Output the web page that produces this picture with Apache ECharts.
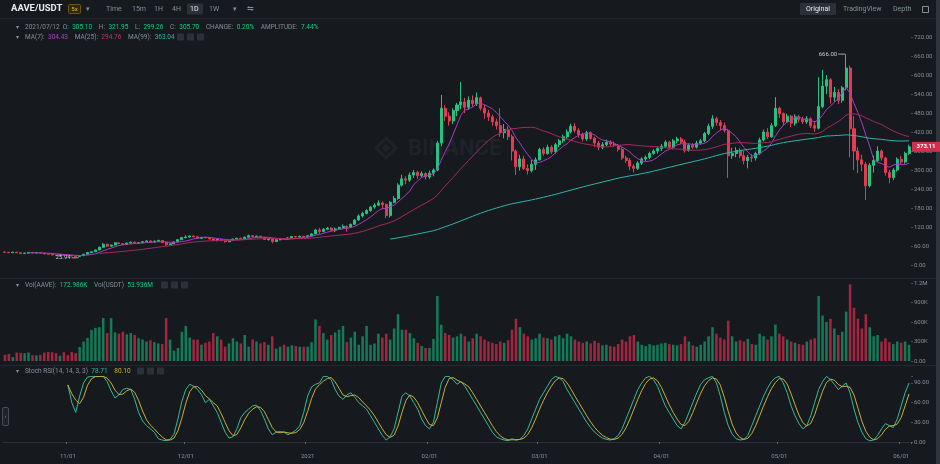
<!DOCTYPE html>
<html>
<head>
<meta charset="utf-8">
<script src="https://cdn.jsdelivr.net/npm/echarts@6/dist/echarts.min.js"></script>
<style>
html, body { margin: 0; padding: 0; background: #161a1e; }
#chart { width: 940px; height: 464px; }
</style>
</head>
<body>
<div id="chart"></div>
<script>
// AAVE/USDT daily, 2020-10-16 .. 2021-06-03 (open = previous close)
var firstOpen = 41.0;
var closes = [
  40.2,38.9,40.6,38.7,36.1,37.5,39.8,37.9,39.1,37.6,35.0,34.2,31.8,31.0,32.5,31.0,
  30.5,28.4,27.0,29.5,34.0,39.5,42.0,47.5,56.0,65.5,59.5,63.0,70.0,67.5,65.0,69.5,72.0,68.5,70.2,73.5,76.0,72.5,75.0,77.5,71.0,64.5,67.0,73.0,80.0,86.5,
  88.5,91.5,89.0,84.0,87.5,86.0,82.5,78.0,80.5,77.0,73.5,78.5,82.0,84.5,83.0,88.0,92.5,89.5,91.0,87.5,80.5,84.0,74.0,79.5,83.0,82.0,85.5,90.0,88.5,90.5,89.0,
  92.5,98.0,110.5,106.0,113.0,116.5,110.0,114.0,118.5,122.0,119.0,128.5,142.0,155.0,163.0,172.0,183.0,189.0,196.0,191.0,156.0,198.0,210.0,252.0,272.0,268.0,284.0,292.0,282.0,289.0,278.0,
  290,300,385,495,470,455,488,505,515,498,520,510,528,495,480,468,452,440,418,428,405,360,310,335,305,298,318,332,
  365,352,372,358,380,392,405,420,438,425,412,398,418,400,385,372,380,388,382,378,365,338,330,312,305,322,335,340,352,360,368,
  375,388,372,392,398,388,362,378,372,385,392,415,438,462,450,440,425,345,352,362,345,330,340,338,352,395,420,405,440,495,
  478,452,470,448,468,460,452,462,440,432,500,565,585,530,545,520,560,622,430,360,332,318,250,315,330,360,338,292,276,300,334,
  325,352,373.11
];
var highs = [
  43.5,41.0,41.5,41.2,39.0,38.8,41.0,40.2,39.8,39.5,38.0,36.0,34.8,32.5,33.2,33.0,
  31.6,30.9,28.9,30.2,34.8,40.5,44.0,48.5,58.0,69.0,67.0,64.5,71.5,71.0,68.5,70.5,74.0,73.5,71.5,75.0,78.5,77.0,77.5,80.0,78.5,72.0,68.5,74.0,81.5,89.0,
  94.0,93.5,93.0,90.5,88.5,89.0,87.5,84.0,82.0,81.5,78.0,79.5,84.0,86.0,86.5,89.5,96.0,93.5,92.5,92.0,89.0,85.5,85.0,81.0,84.5,85.0,88.0,91.5,92.0,93.0,92.0,
  94,100.5,114,117,116,120,119,118,121,128,125,131,145,160,168,176,186,195,204,201,194,202,218,258,285,280,292,300,298,296,292,
  298,305,392,537,505,482,495,512,578,528,532,536,545,532,505,490,475,462,495,445,438,412,365,348,345,318,332,340,
  370,372,380,378,386,398,412,428,446,448,432,418,424,422,405,392,388,396,394,390,382,372,345,338,318,328,340,346,358,366,375,
  382,394,392,398,405,404,396,384,385,392,398,420,446,473,468,458,450,430,370,372,370,360,348,350,358,402,428,432,448,530,
  500,482,478,474,476,474,468,470,466,455,593,616,600,590,562,556,566,666,630,470,372,348,325,322,345,375,365,342,300,306,340,
  345,358,380
];
var lows = [
  38.8,38.0,38.5,38.0,35.2,35.5,37.0,37.2,37.5,37.0,34.2,33.5,31.0,29.8,30.2,30.5,
  29.6,27.8,26.4,25.94,29.0,33.5,38.5,41.0,46.8,55.0,57.5,58.5,62.0,66.0,63.5,64.0,68.0,66.5,66.8,69.5,72.5,70.0,71.0,73.5,70.0,60.5,63.0,66.0,72.0,79.0,
  84.0,86.0,87.5,82.5,83.0,84.5,81.0,76.5,74.5,75.5,70.5,72.5,77.5,80.5,81.5,82.0,87.0,87.5,88.0,86.0,79.0,77.0,68.0,72.5,78.0,80.5,80.0,84.5,86.0,87.0,86.5,
  86,90,97,98,103,110,108,104,112,115,105,117,126,140,150,160,168,178,186,176,148,150,195,206,248,255,262,275,272,276,270,
  272,280,296,375,455,440,445,470,492,480,490,500,502,488,462,455,440,428,405,400,395,330,284,298,300,286,292,300,
  330,345,348,350,352,372,386,398,415,418,402,390,392,396,372,362,365,375,376,372,358,332,322,300,292,300,316,328,334,348,352,
  360,370,368,366,384,382,355,358,366,368,380,388,410,430,440,425,418,275,335,340,338,318,305,325,330,348,390,398,402,436,
  465,440,448,436,440,450,445,446,432,420,428,495,540,510,515,508,512,552,340,300,290,296,205,245,292,325,330,282,258,268,295,
  318,320,348
];
// volume in thousands of AAVE
var volumes = [
  95,110,60,130,125,120,130,90,85,95,130,140,135,120,80,135,
  90,140,120,215,300,355,480,510,520,660,430,660,440,420,450,410,430,400,350,330,300,320,290,270,260,660,330,160,200,450,
  540,360,330,330,250,280,300,430,380,330,220,270,350,300,270,400,220,330,300,270,290,250,380,190,220,250,220,240,230,220,220,
  220,290,640,540,430,330,400,440,480,540,290,360,450,250,380,540,250,270,420,360,420,330,500,720,480,480,430,350,280,230,200,
  200,340,1000,560,430,400,360,380,420,380,300,350,420,380,330,300,280,260,300,280,320,480,650,520,420,380,330,350,
  420,360,350,330,380,400,350,420,380,330,300,280,300,270,310,280,240,250,230,220,260,330,300,380,400,300,250,230,260,240,250,
  270,280,260,250,240,260,380,300,240,220,250,300,380,520,420,360,330,620,380,300,320,300,340,260,250,420,380,330,380,560,
  420,380,330,300,280,260,250,300,330,350,1000,700,600,650,500,400,450,760,1180,820,650,500,720,520,380,400,300,350,290,260,300,
  280,300,250
];
// Stoch RSI %K, starts 2020-11-01
var stochK = [
  87,60,45,70,90,99,100,100,100,100,92,78,67,72,80,82,80,65,45,32,25,20,15,5,3,2,4,12,35,62,
  80,88,85,80,72,60,65,55,45,30,15,6,8,20,37,45,50,55,56,48,35,20,11,15,16,15,11,14,18,25,45,70,84,88,90,
  100,100,95,80,70,65,72,75,68,60,55,50,40,30,20,10,3,8,20,45,70,75,70,60,50,35,25,20,30,60,
  90,100,100,95,88,92,85,75,65,55,45,35,25,15,8,5,3,2,5,3,4,10,20,35,50,65,75,85,95,100,
  98,92,80,70,60,50,40,30,22,15,10,6,4,3,5,10,20,35,50,65,80,90,98,100,95,85,70,55,45,35,
  25,20,30,45,60,75,88,95,98,100,90,70,45,25,12,5,3,4,10,25,40,55,70,82,92,98,100,90,75,55,
  40,28,20,25,40,60,80,92,100,95,88,80,85,90,75,50,30,15,5,2,3,10,20,28,25,22,35,55,75,90
];
var kStart = 16;
var priceMarks = { high: 666.00, low: 25.94 };

var UP = '#26c281', DOWN = '#e33b54';
var VOL_UP = '#147a58', VOL_DOWN = '#a32540';
var GREY = '#848e9c';
var FONT = 'Roboto, sans-serif';

var dates = [];
var t0 = Date.UTC(2020, 9, 16);
for (var i = 0; i < closes.length; i++) {
  dates.push(new Date(t0 + i * 86400000).toISOString().slice(0, 10));
}

var candles = [], volData = [];
for (var i = 0; i < closes.length; i++) {
  var o = i === 0 ? firstOpen : closes[i - 1];
  var c = closes[i];
  var h = Math.max(highs[i], o, c), l = Math.min(lows[i], o, c);
  candles.push([o, c, l, h]);
  volData.push({ value: volumes[i], itemStyle: { color: c >= o ? VOL_UP : VOL_DOWN } });
}

function ma(n) {
  var out = [];
  for (var i = 0; i < closes.length; i++) {
    if (i < n - 1) { out.push('-'); continue; }
    var s = 0;
    for (var j = i - n + 1; j <= i; j++) s += closes[j];
    out.push(+(s / n).toFixed(2));
  }
  return out;
}

var kData = [], dData = [];
for (var i = 0; i < closes.length; i++) {
  var k = i - kStart;
  if (k < 0) { kData.push('-'); dData.push('-'); continue; }
  kData.push(stochK[k]);
  var a = Math.max(0, k - 2), s = 0;
  for (var j = a; j <= k; j++) s += stochK[j];
  dData.push(+(s / (k - a + 1)).toFixed(2));
}

var chart = echarts.init(document.getElementById('chart'), null, { renderer: 'canvas' });

function xAxisFor(g) {
  var shown = g === 2;
  return {
    type: 'category', gridIndex: g, data: dates, boundaryGap: true,
    offset: shown ? 8 : 0,
    axisLine: { show: shown, lineStyle: { color: '#2b2f36' } },
    axisTick: { show: shown, length: 2, lineStyle: { color: '#5e6673' },
      interval: function (idx, v) { return v.slice(8) === '01'; } },
    axisLabel: { show: shown, fontSize: 6, color: GREY, margin: 3, fontFamily: FONT,
      interval: function (idx, v) { return v.slice(8) === '01'; },
      formatter: function (v) { return v.slice(5, 7) === '01' ? v.slice(0, 4) : v.slice(5, 7) + '/' + v.slice(8); } },
    splitLine: { show: false }
  };
}
function yAxisFor(g, min, max, interval, fmt) {
  return {
    type: 'value', gridIndex: g, position: 'right', min: min, max: max, interval: interval,
    axisLine: { show: false },
    axisTick: { show: true, length: 2, lineStyle: { color: '#474d57' } },
    axisLabel: { fontSize: 6, color: GREY, margin: 3, fontFamily: FONT, formatter: fmt },
    splitLine: { show: false }
  };
}

chart.setOption({
  backgroundColor: '#161a1e',
  animation: false,
  textStyle: { fontFamily: FONT },
  grid: [
    { left: 3, right: 29, top: 37, height: 228 },
    { left: 3, right: 29, top: 283, height: 78 },
    { left: 3, right: 29, top: 376.4, height: 65.6 }
  ],
  xAxis: [xAxisFor(0), xAxisFor(1), xAxisFor(2)],
  yAxis: [
    yAxisFor(0, 0, 720, 60, function (v) { return v.toFixed(2); }),
    yAxisFor(1, 0, 1200, 300, function (v) { return v === 0 ? '0.00' : (v >= 1000 ? (v / 1000) + 'M' : v + 'K'); }),
    yAxisFor(2, 0, 100, 30, function (v) { return v > 90 ? '' : v.toFixed(2); })
  ],
  series: [
    { type: 'candlestick', xAxisIndex: 0, yAxisIndex: 0, data: candles, barWidth: '64%',
      itemStyle: { color: UP, color0: DOWN, borderColor: UP, borderColor0: DOWN, borderWidth: 1 } },
    { type: 'line', xAxisIndex: 0, yAxisIndex: 0, data: ma(7), showSymbol: false,
      lineStyle: { width: 1, color: '#a43cc4' } },
    { type: 'line', xAxisIndex: 0, yAxisIndex: 0, data: ma(25), showSymbol: false,
      lineStyle: { width: 1, color: '#a8285e' } },
    { type: 'line', xAxisIndex: 0, yAxisIndex: 0, data: ma(99), showSymbol: false,
      lineStyle: { width: 1, color: '#2fb3aa' } },
    { type: 'bar', xAxisIndex: 1, yAxisIndex: 1, data: volData, barWidth: '64%' },
    { type: 'line', xAxisIndex: 2, yAxisIndex: 2, data: kData, showSymbol: false,
      lineStyle: { width: 1, color: '#36b99a' } },
    { type: 'line', xAxisIndex: 2, yAxisIndex: 2, data: dData, showSymbol: false,
      lineStyle: { width: 1, color: '#c9ad3e' } }
  ]
});

// overlay: toolbar, legends, tags, annotations
function txt(x, y, s, fill, size, extra) {
  var st = { text: s, fill: fill, font: (extra && extra.bold ? 'bold ' : '') + size + 'px ' + FONT,
    align: (extra && extra.align) || 'left', verticalAlign: 'middle' };
  return { type: 'text', x: x, y: y, z: 100, style: st };
}
function rich(x, y, s, size) {
  var sty = function (c) { return { fill: c, fontSize: size, fontFamily: FONT }; };
  return { type: 'text', x: x, y: y, z: 100, style: { text: s, verticalAlign: 'middle',
    rich: { g: sty(GREY), v: sty('#0ecb81'), p: sty('#b13ec6'), r: sty('#c2305f'), t: sty('#2fb3aa'), y: sty('#d0ad3a') } } };
}
function box(x, y, w, h, fill, r) {
  return { type: 'rect', z: 99, shape: { x: x, y: y, width: w, height: h, r: r || 0 }, style: { fill: fill } };
}
function squares(x, y) {
  return [box(x, y, 7, 7, '#2b3139', 1), box(x + 10, y, 7, 7, '#2b3139', 1), box(x + 20, y, 7, 7, '#2b3139', 1)];
}

var hiIdx = highs.indexOf(priceMarks.high), loIdx = lows.indexOf(priceMarks.low);
var pHi = chart.convertToPixel({ gridIndex: 0 }, [dates[hiIdx], priceMarks.high]);
var pLo = chart.convertToPixel({ gridIndex: 0 }, [dates[loIdx], priceMarks.low]);
var last = closes[closes.length - 1];
var pLast = chart.convertToPixel({ gridIndex: 0 }, [dates[dates.length - 1], last]);

var g = [];
// watermark
g.push({ type: 'rect', z: 0, shape: { x: -7, y: -7, width: 14, height: 14 }, x: 386, y: 148, rotation: Math.PI / 4,
  style: { fill: 'none', stroke: '#1f2328', lineWidth: 3 } });
g.push({ type: 'rect', z: 0, shape: { x: -3, y: -3, width: 6, height: 6 }, x: 386, y: 148, rotation: Math.PI / 4,
  style: { fill: '#1f2328' } });
g.push({ type: 'text', z: 0, x: 408, y: 149, style: { text: 'BINANCE', fill: '#1f2328', font: 'bold 22px ' + FONT, verticalAlign: 'middle' } });

// separators and chrome
g.push(box(0, 18, 936, 1, '#1f2329'));
g.push(box(0, 278, 936, 1, '#23272e'));
g.push(box(0, 365, 936, 1, '#23272e'));
g.push(box(936, 0, 4, 464, '#30343b'));
g.push({ type: 'rect', z: 99, shape: { x: 2.5, y: 407.5, width: 6, height: 18, r: 1.5 }, style: { fill: '#1e2329', stroke: '#474d57', lineWidth: 1 } });
g.push(txt(5.5, 416.5, '›', GREY, 6, { align: 'center' }));

// toolbar
g.push(txt(11, 9, 'AAVE/USDT', '#eaecef', 9.5, { bold: true }));
g.push({ type: 'rect', z: 99, shape: { x: 68.5, y: 4.5, width: 12, height: 9, r: 1 }, style: { fill: '#2e2816', stroke: '#6b5518', lineWidth: 1 } });
g.push(txt(74.5, 9, '5x', '#f0b90b', 6, { align: 'center' }));
g.push(txt(86, 9, '▾', GREY, 7));
g.push(box(187, 3.5, 16, 11, '#2b3139', 1));
[['Time', 106], ['15m', 132], ['1H', 154], ['4H', 172], ['1W', 209]].forEach(function (p) { g.push(txt(p[1], 9, p[0], GREY, 7)); });
g.push(txt(190, 9, '1D', '#eaecef', 7));
g.push(txt(233, 9, '▾', GREY, 7));
g.push(txt(247, 9, '⇋', GREY, 8));
g.push(box(800, 3, 36, 12, '#2b3139', 1));
g.push(txt(818, 9, 'Original', '#eaecef', 7, { align: 'center' }));
g.push(txt(843, 9, 'TradingView', GREY, 7));
g.push(txt(893, 9, 'Depth', GREY, 7));
g.push({ type: 'rect', z: 99, shape: { x: 922.5, y: 6.5, width: 6, height: 6 }, style: { fill: 'none', stroke: GREY, lineWidth: 1 } });

// legends
g.push(txt(16, 27, '▾', GREY, 6));
g.push(rich(25, 27, '{g|2021/07/12  O:} {v|305.10}  {g|H:} {v|321.95}  {g|L:} {v|299.26}  {g|C:} {v|305.70}  {g|CHANGE:} {v|0.20%}  {g|AMPLITUDE:} {v|7.44%}', 6.5));
g.push(txt(16, 37, '▾', GREY, 6));
g.push(rich(25, 37, '{g|MA(7):} {p|304.43}  {g|MA(25):} {r|294.76}  {g|MA(99):} {t|363.04}', 6.5));
g = g.concat(squares(177, 33.5));
g.push(txt(16, 285, '▾', GREY, 6));
g.push(rich(25, 285, '{g|Vol(AAVE):} {v|172.986K}  {g|Vol(USDT)} {v|53.936M}', 6.5));
g = g.concat(squares(161, 281.5));
g.push(txt(16, 371, '▾', GREY, 6));
g.push(rich(25, 371, '{g|Stoch RSI(14, 14, 3, 3)} {t|78.71}  {y|80.10}', 6.5));
g = g.concat(squares(137, 367.5));

// high / low marks
g.push(txt(pHi[0] - 9, pHi[1], priceMarks.high.toFixed(2), '#c7ccd3', 6, { align: 'right' }));
g.push({ type: 'line', z: 100, shape: { x1: pHi[0] - 8, y1: pHi[1], x2: pHi[0] - 1, y2: pHi[1] }, style: { stroke: '#c7ccd3', lineWidth: 0.8 } });
g.push(txt(pLo[0] - 9, pLo[1] + 1, priceMarks.low.toFixed(2), '#c7ccd3', 6, { align: 'right' }));
g.push({ type: 'line', z: 100, shape: { x1: pLo[0] - 8, y1: pLo[1] + 1, x2: pLo[0] - 1, y2: pLo[1] + 1 }, style: { stroke: '#c7ccd3', lineWidth: 0.8 } });

// last price tag
g.push(box(912, pLast[1] - 5, 28, 10, '#cf304a'));
g.push(txt(926, pLast[1], last.toFixed(2), '#ffffff', 6, { align: 'center', bold: true }));

chart.setOption({ graphic: g });
</script>
</body>
</html>
